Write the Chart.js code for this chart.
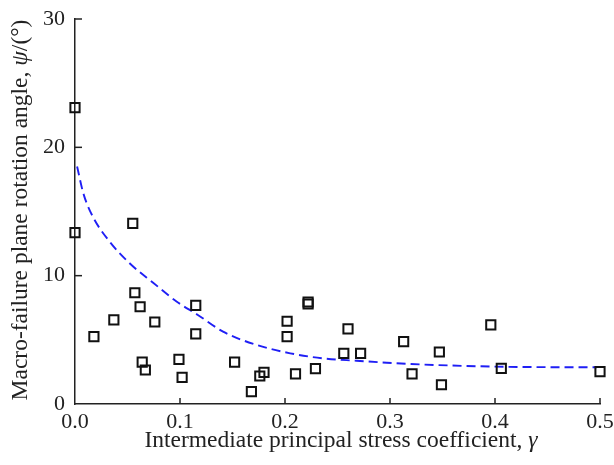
<!DOCTYPE html>
<html>
<head>
<meta charset="utf-8">
<script src="https://cdn.jsdelivr.net/npm/chart.js@4/dist/chart.umd.min.js"></script>
<style>
html,body{margin:0;padding:0;background:#fff}
#wrap{width:614px;height:465px;position:relative}
</style>
</head>
<body>
<div id="wrap"><canvas id="c" width="614" height="465"></canvas></div>
<script>
// measured points (gamma, psi)
const gammaPts=[0,0,0.055,0.018,0.037,0.057,0.062,0.076,0.064,0.067,0.099,0.102,0.115,0.115,0.152,0.168,0.176,0.180,0.202,0.202,0.210,0.222,0.222,0.229,0.260,0.256,0.272,0.313,0.321,0.347,0.349,0.396,0.406,0.5];
const psiPts=[23.1,13.35,14.08,5.25,6.55,8.67,7.58,6.39,3.27,2.65,3.48,2.08,7.68,5.46,3.27,0.96,2.18,2.47,6.45,5.25,2.34,7.95,7.79,2.75,5.85,3.95,3.95,4.86,2.34,4.05,1.5,6.16,2.78,2.52];
// fitted curve
const fitGamma=[0.002,0.008,0.017,0.033,0.052,0.075,0.097,0.117,0.141,0.173,0.205,0.236,0.268,0.297,0.33,0.37,0.41,0.45,0.497];
const fitPsi=[18.5,16.4,14.6,12.65,10.97,9.41,7.97,6.94,5.64,4.6,3.95,3.56,3.37,3.22,3.08,2.97,2.9,2.87,2.86];
const xTicks=[0,0.1,0.2,0.3,0.4,0.5];
const yTicks=[0,10,20,30];

const FONT='"Liberation Serif","DejaVu Serif",serif';
const INK='#222';

// titles with italic greek letters + inward tick marks
const decor={id:'decor',afterDraw(ch){
  const ctx=ch.ctx,xs=ch.scales.x,ys=ch.scales.y;
  ctx.save();
  ctx.strokeStyle=INK;ctx.lineWidth=1.5;
  xTicks.slice(1).forEach(v=>{const p=xs.getPixelForValue(v);ctx.beginPath();ctx.moveTo(p,ys.bottom);ctx.lineTo(p,ys.bottom-6);ctx.stroke();});
  yTicks.slice(1).forEach(v=>{const p=ys.getPixelForValue(v);ctx.beginPath();ctx.moveTo(xs.left,p);ctx.lineTo(xs.left+7,p);ctx.stroke();});
  ctx.fillStyle=INK;ctx.textBaseline='alphabetic';
  const fs=23.5;
  function run(parts,cx,cy){
    let w=0;parts.forEach(p=>{ctx.font=(p[1]?'italic ':'')+fs+'px '+FONT;w+=ctx.measureText(p[0]).width;});
    let x=cx-w/2;
    parts.forEach(p=>{ctx.font=(p[1]?'italic ':'')+fs+'px '+FONT;ctx.fillText(p[0],x,cy);x+=ctx.measureText(p[0]).width;});
  }
  run([['Intermediate principal stress coefficient, ',0],['γ',1]],341,447);
  ctx.translate(27,210);ctx.rotate(-Math.PI/2);
  run([['Macro-failure plane rotation angle, ',0],['ψ',1],['/(°)',0]],0,0);
  ctx.restore();
}};

new Chart(document.getElementById('c'),{
  type:'scatter',
  data:{datasets:[
    {data:gammaPts.map((g,i)=>({x:g,y:psiPts[i]})),clip:false,pointStyle:'rect',pointRadius:6.5,pointHoverRadius:6.5,borderColor:'#111',borderWidth:2,backgroundColor:'rgba(0,0,0,0)'},
    {data:fitGamma.map((g,i)=>({x:g,y:fitPsi[i]})),clip:false,showLine:true,pointRadius:0,borderColor:'#1f1ff5',borderWidth:1.9,borderDash:[9,5],cubicInterpolationMode:'monotone',fill:false}
  ]},
  options:{
    responsive:false,animation:false,
    layout:{padding:{top:19,right:14,left:0,bottom:0}},
    plugins:{legend:{display:false},tooltip:{enabled:false}},
    scales:{
      x:{type:'linear',min:0,max:0.5,
        afterBuildTicks:s=>{s.ticks=xTicks.map(v=>({value:v}));},
        afterFit:s=>{s.height=61;s.paddingLeft=0;s.paddingRight=0;},
        grid:{display:false,drawTicks:false},border:{display:true,color:INK,width:1.5},
        ticks:{padding:5,color:INK,font:{family:FONT,size:22},callback:v=>v.toFixed(1),maxRotation:0}},
      y:{type:'linear',min:0,max:30,
        afterBuildTicks:s=>{s.ticks=yTicks.map(v=>({value:v}));},
        afterFit:s=>{s.width=75;s.paddingTop=0;s.paddingBottom=0;},
        grid:{display:false,drawTicks:false},border:{display:true,color:INK,width:1.5},
        ticks:{padding:10,color:INK,font:{family:FONT,size:22}}}
    }
  },
  plugins:[decor]
});
</script>
</body>
</html>
